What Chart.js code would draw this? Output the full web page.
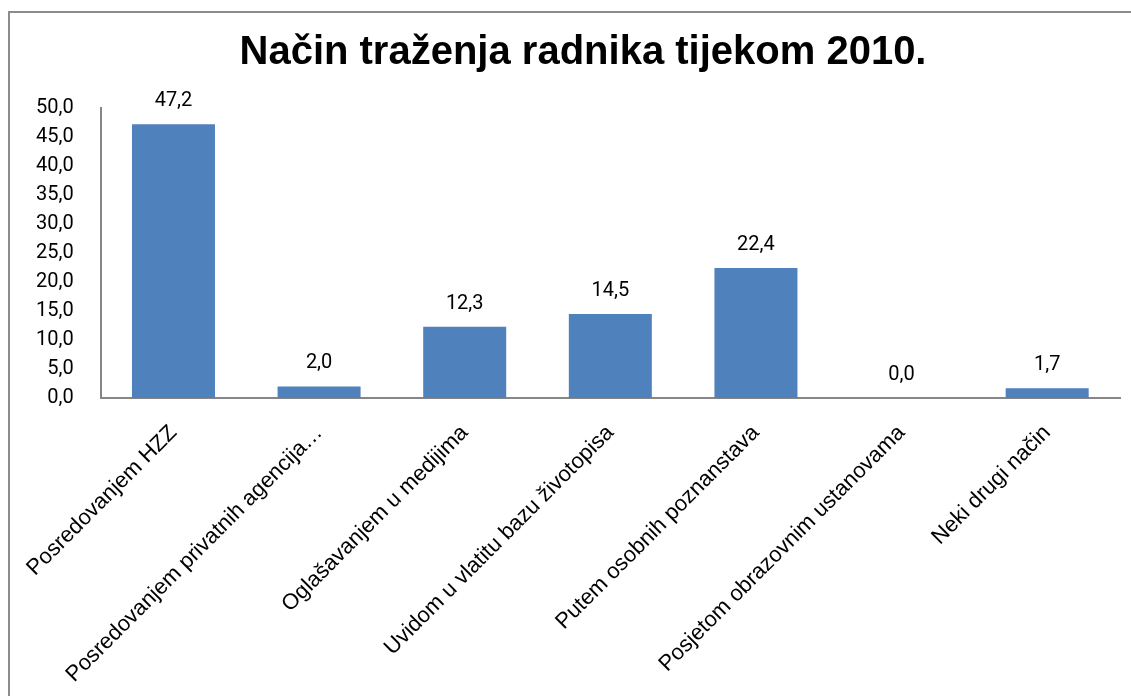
<!DOCTYPE html>
<html>
<head>
<meta charset="utf-8">
<script src="https://cdn.jsdelivr.net/npm/chart.js@4"></script>
<style>
  body { margin: 0; background: #fff; }
  #wrap { position: relative; width: 1131px; height: 696px; }
  #frame { position: absolute; left: 8px; top: 11px; width: 1200px; height: 800px;
           border-left: 2px solid #8c8c8c; border-top: 2px solid #8c8c8c; pointer-events: none; }
</style>
</head>
<body>
<div id="wrap">
  <canvas id="myChart" width="1131" height="696"></canvas>
  <div id="frame"></div>
</div>
<script>
// Chart data
const categories = [
  'Posredovanjem HZZ',
  'Posredovanjem privatnih agencija…',
  'Oglašavanjem u medijima',
  'Uvidom u vlatitu bazu životopisa',
  'Putem osobnih poznanstava',
  'Posjetom obrazovnim ustanovama',
  'Neki drugi način'
];
const shares = [47.2, 2.0, 12.3, 14.5, 22.4, 0.0, 1.7];
const chartTitle = 'Način traženja radnika tijekom 2010.';

// format numbers with a decimal comma
const fmt = v => v.toFixed(1).replace('.', ',');

// Title drawn a bit right of the canvas centre, like the original
const titleText = {
  id: 'titleText',
  afterDraw(chart) {
    const ctx = chart.ctx;
    ctx.save();
    ctx.font = 'bold 40px "Liberation Sans"';
    ctx.fillStyle = '#000';
    ctx.textAlign = 'center';
    ctx.textBaseline = 'middle';
    ctx.fillText(chartTitle, 583, 53);
    ctx.restore();
  }
};

// Draw value labels above each bar
const valueLabels = {
  id: 'valueLabels',
  afterDatasetsDraw(chart) {
    const ctx = chart.ctx;
    const meta = chart.getDatasetMeta(0);
    ctx.save();
    ctx.font = '20px Roboto';
    ctx.fillStyle = '#000';
    ctx.textAlign = 'center';
    ctx.textBaseline = 'middle';
    meta.data.forEach((bar, i) => {
      ctx.fillText(fmt(shares[i]), bar.x, bar.y - 23);
    });
    ctx.restore();
  }
};

const ctx = document.getElementById('myChart').getContext('2d');
new Chart(ctx, {
  type: 'bar',
  data: {
    labels: categories,
    datasets: [{
      data: shares,
      backgroundColor: '#4F81BD',
      barPercentage: 0.57,
      categoryPercentage: 1.0
    }]
  },
  options: {
    responsive: false,
    animation: false,
    layout: { padding: { left: 17, right: 11, top: 108, bottom: 8 } },
    scales: {
      x: {
        grid: { display: false },
        border: { color: '#868686', width: 2 },
        ticks: {
          minRotation: 45,
          maxRotation: 45,
          color: '#000',
          font: { family: 'Liberation Sans', size: 22 },
          autoSkip: false,
          padding: 14
        }
      },
      y: {
        min: 0,
        max: 50,
        grid: { display: false },
        border: { color: '#868686', width: 2 },
        ticks: {
          stepSize: 5,
          color: '#000',
          font: { family: 'Roboto', size: 20 },
          padding: 19,
          callback: v => fmt(v)
        }
      }
    },
    plugins: {
      legend: { display: false },
      tooltip: { enabled: false },
      title: { display: false }
    }
  },
  plugins: [valueLabels, titleText]
});
</script>
</body>
</html>
